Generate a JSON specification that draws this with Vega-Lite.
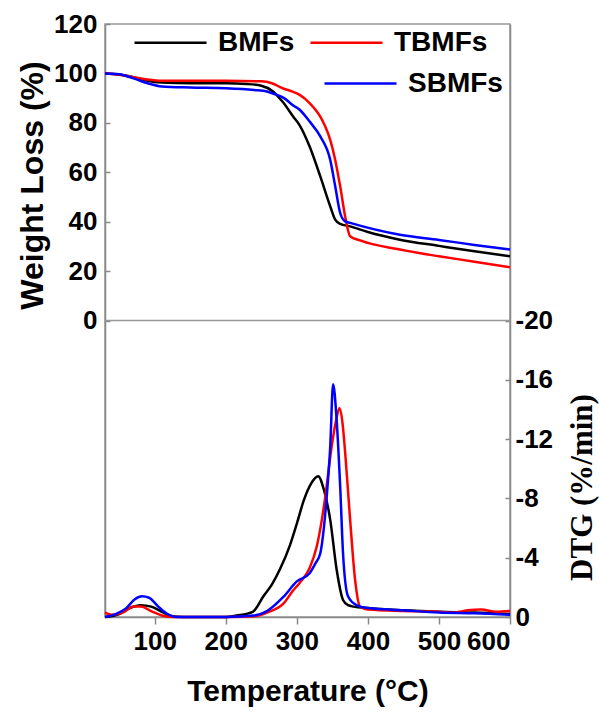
{
  "$schema": "https://vega.github.io/schema/vega-lite/v6.json",
  "autosize": "none",
  "padding": {"left": 105, "top": 24, "right": 89, "bottom": 98},
  "width": 405,
  "height": 593,
  "background": "white",
  "config": {
    "view": {"stroke": "#999999", "strokeWidth": 1.5},
    "axis": {
      "grid": false,
      "domainColor": "#888888",
      "domainWidth": 1.5,
      "tickColor": "#888888",
      "tickWidth": 1.5,
      "tickSize": 5,
      "labelFont": "Liberation Sans",
      "labelFontWeight": "bold",
      "labelFontSize": 26,
      "labelColor": "black",
      "titleFont": "Liberation Sans",
      "titleFontWeight": "bold",
      "titleFontSize": 30,
      "titleColor": "black"
    },
    "legend": {
      "orient": "none",
      "direction": "horizontal",
      "title": null,
      "padding": 0,
      "symbolType": "stroke",
      "symbolSize": 5184,
      "symbolStrokeWidth": 2.5,
      "labelFont": "Liberation Sans",
      "labelFontWeight": "bold",
      "labelFontSize": 28,
      "labelColor": "black",
      "labelOffset": 10,
      "labelLimit": 300,
      "columnPadding": 10
    }
  },
  "datasets": {
    "tga": [
      {"T": 30, "s": "BMFs", "w": 100}, {"T": 50, "s": "BMFs", "w": 99.6}, {"T": 70, "s": "BMFs", "w": 98.5}, {"T": 90, "s": "BMFs", "w": 97}, {"T": 110, "s": "BMFs", "w": 96.3}, {"T": 150, "s": "BMFs", "w": 96}, {"T": 200, "s": "BMFs", "w": 96}, {"T": 230, "s": "BMFs", "w": 95.7}, {"T": 250, "s": "BMFs", "w": 95}, {"T": 265, "s": "BMFs", "w": 93}, {"T": 280, "s": "BMFs", "w": 88.5}, {"T": 295, "s": "BMFs", "w": 82.5}, {"T": 304, "s": "BMFs", "w": 79}, {"T": 318, "s": "BMFs", "w": 70.4}, {"T": 333, "s": "BMFs", "w": 58.3}, {"T": 347, "s": "BMFs", "w": 46.2}, {"T": 354, "s": "BMFs", "w": 40.8}, {"T": 361, "s": "BMFs", "w": 39.1}, {"T": 375, "s": "BMFs", "w": 38.1}, {"T": 400, "s": "BMFs", "w": 35.8}, {"T": 445, "s": "BMFs", "w": 32.7}, {"T": 500, "s": "BMFs", "w": 30.2}, {"T": 550, "s": "BMFs", "w": 28}, {"T": 600, "s": "BMFs", "w": 26},
      {"T": 30, "s": "TBMFs", "w": 100}, {"T": 50, "s": "TBMFs", "w": 99.5}, {"T": 70, "s": "TBMFs", "w": 98.5}, {"T": 90, "s": "TBMFs", "w": 97.5}, {"T": 110, "s": "TBMFs", "w": 97}, {"T": 150, "s": "TBMFs", "w": 97}, {"T": 200, "s": "TBMFs", "w": 97}, {"T": 250, "s": "TBMFs", "w": 96.8}, {"T": 265, "s": "TBMFs", "w": 96}, {"T": 280, "s": "TBMFs", "w": 94}, {"T": 292, "s": "TBMFs", "w": 92.8}, {"T": 304, "s": "TBMFs", "w": 91.3}, {"T": 318, "s": "TBMFs", "w": 88}, {"T": 333, "s": "TBMFs", "w": 82.5}, {"T": 340, "s": "TBMFs", "w": 78.5}, {"T": 347, "s": "TBMFs", "w": 73.1}, {"T": 354, "s": "TBMFs", "w": 65}, {"T": 361, "s": "TBMFs", "w": 54.3}, {"T": 368, "s": "TBMFs", "w": 42.1}, {"T": 375, "s": "TBMFs", "w": 34.1}, {"T": 389, "s": "TBMFs", "w": 32.4}, {"T": 445, "s": "TBMFs", "w": 28.7}, {"T": 500, "s": "TBMFs", "w": 26}, {"T": 550, "s": "TBMFs", "w": 23.8}, {"T": 600, "s": "TBMFs", "w": 21.5},
      {"T": 30, "s": "SBMFs", "w": 100}, {"T": 50, "s": "SBMFs", "w": 99.7}, {"T": 70, "s": "SBMFs", "w": 98}, {"T": 90, "s": "SBMFs", "w": 96}, {"T": 110, "s": "SBMFs", "w": 94.7}, {"T": 150, "s": "SBMFs", "w": 94.3}, {"T": 200, "s": "SBMFs", "w": 94}, {"T": 240, "s": "SBMFs", "w": 93.3}, {"T": 258, "s": "SBMFs", "w": 92.7}, {"T": 270, "s": "SBMFs", "w": 91.5}, {"T": 282, "s": "SBMFs", "w": 90}, {"T": 295, "s": "SBMFs", "w": 87}, {"T": 304, "s": "SBMFs", "w": 85.3}, {"T": 318, "s": "SBMFs", "w": 80.5}, {"T": 333, "s": "SBMFs", "w": 74.5}, {"T": 347, "s": "SBMFs", "w": 65}, {"T": 354, "s": "SBMFs", "w": 54.3}, {"T": 361, "s": "SBMFs", "w": 43.5}, {"T": 368, "s": "SBMFs", "w": 40.1}, {"T": 375, "s": "SBMFs", "w": 39.5}, {"T": 445, "s": "SBMFs", "w": 34.7}, {"T": 500, "s": "SBMFs", "w": 32.6}, {"T": 550, "s": "SBMFs", "w": 30.6}, {"T": 600, "s": "SBMFs", "w": 28.7}
    ],
    "dtg": [
      {"T": 30, "s": "BMFs", "d": 0}, {"T": 50, "s": "BMFs", "d": -0.2}, {"T": 65, "s": "BMFs", "d": -0.6}, {"T": 80, "s": "BMFs", "d": -0.8}, {"T": 95, "s": "BMFs", "d": -0.7}, {"T": 110, "s": "BMFs", "d": -0.35}, {"T": 125, "s": "BMFs", "d": -0.05}, {"T": 140, "s": "BMFs", "d": 0}, {"T": 200, "s": "BMFs", "d": 0}, {"T": 215, "s": "BMFs", "d": -0.1}, {"T": 238, "s": "BMFs", "d": -0.35}, {"T": 253, "s": "BMFs", "d": -1.4}, {"T": 265, "s": "BMFs", "d": -2.2}, {"T": 276, "s": "BMFs", "d": -3.2}, {"T": 290, "s": "BMFs", "d": -4.8}, {"T": 300, "s": "BMFs", "d": -6.3}, {"T": 310, "s": "BMFs", "d": -7.9}, {"T": 320, "s": "BMFs", "d": -9.0}, {"T": 330, "s": "BMFs", "d": -9.5}, {"T": 338, "s": "BMFs", "d": -8.6}, {"T": 347, "s": "BMFs", "d": -6.55}, {"T": 356, "s": "BMFs", "d": -3.2}, {"T": 365, "s": "BMFs", "d": -1.15}, {"T": 372, "s": "BMFs", "d": -0.8}, {"T": 380, "s": "BMFs", "d": -0.7}, {"T": 400, "s": "BMFs", "d": -0.6}, {"T": 450, "s": "BMFs", "d": -0.45}, {"T": 500, "s": "BMFs", "d": -0.35}, {"T": 550, "s": "BMFs", "d": -0.3}, {"T": 600, "s": "BMFs", "d": -0.2},
      {"T": 30, "s": "TBMFs", "d": -0.3}, {"T": 40, "s": "TBMFs", "d": -0.15}, {"T": 55, "s": "TBMFs", "d": -0.3}, {"T": 70, "s": "TBMFs", "d": -0.7}, {"T": 80, "s": "TBMFs", "d": -0.7}, {"T": 95, "s": "TBMFs", "d": -0.4}, {"T": 110, "s": "TBMFs", "d": -0.1}, {"T": 125, "s": "TBMFs", "d": 0}, {"T": 200, "s": "TBMFs", "d": 0}, {"T": 240, "s": "TBMFs", "d": -0.05}, {"T": 258, "s": "TBMFs", "d": -0.3}, {"T": 281, "s": "TBMFs", "d": -0.9}, {"T": 295, "s": "TBMFs", "d": -1.8}, {"T": 304, "s": "TBMFs", "d": -2.3}, {"T": 318, "s": "TBMFs", "d": -3.3}, {"T": 328, "s": "TBMFs", "d": -4.75}, {"T": 335, "s": "TBMFs", "d": -6.5}, {"T": 340, "s": "TBMFs", "d": -8.1}, {"T": 349, "s": "TBMFs", "d": -11.5}, {"T": 355, "s": "TBMFs", "d": -13.2}, {"T": 360, "s": "TBMFs", "d": -14.1}, {"T": 364, "s": "TBMFs", "d": -13.2}, {"T": 368, "s": "TBMFs", "d": -11.1}, {"T": 375, "s": "TBMFs", "d": -6.55}, {"T": 382, "s": "TBMFs", "d": -2.5}, {"T": 389, "s": "TBMFs", "d": -0.7}, {"T": 400, "s": "TBMFs", "d": -0.5}, {"T": 450, "s": "TBMFs", "d": -0.4}, {"T": 500, "s": "TBMFs", "d": -0.35}, {"T": 520, "s": "TBMFs", "d": -0.3}, {"T": 540, "s": "TBMFs", "d": -0.45}, {"T": 560, "s": "TBMFs", "d": -0.5}, {"T": 580, "s": "TBMFs", "d": -0.35}, {"T": 600, "s": "TBMFs", "d": -0.4},
      {"T": 30, "s": "SBMFs", "d": 0}, {"T": 45, "s": "SBMFs", "d": -0.2}, {"T": 60, "s": "SBMFs", "d": -0.6}, {"T": 72, "s": "SBMFs", "d": -1.2}, {"T": 82, "s": "SBMFs", "d": -1.4}, {"T": 92, "s": "SBMFs", "d": -1.3}, {"T": 105, "s": "SBMFs", "d": -0.7}, {"T": 118, "s": "SBMFs", "d": -0.2}, {"T": 130, "s": "SBMFs", "d": 0}, {"T": 200, "s": "SBMFs", "d": 0}, {"T": 240, "s": "SBMFs", "d": -0.1}, {"T": 258, "s": "SBMFs", "d": -0.4}, {"T": 281, "s": "SBMFs", "d": -1.35}, {"T": 300, "s": "SBMFs", "d": -2.4}, {"T": 318, "s": "SBMFs", "d": -2.95}, {"T": 326, "s": "SBMFs", "d": -3.6}, {"T": 333, "s": "SBMFs", "d": -4.3}, {"T": 338, "s": "SBMFs", "d": -6}, {"T": 342, "s": "SBMFs", "d": -8.1}, {"T": 347, "s": "SBMFs", "d": -11.5}, {"T": 351, "s": "SBMFs", "d": -15.7}, {"T": 356, "s": "SBMFs", "d": -13.3}, {"T": 361, "s": "SBMFs", "d": -8.8}, {"T": 365, "s": "SBMFs", "d": -4.3}, {"T": 372, "s": "SBMFs", "d": -1.4}, {"T": 384, "s": "SBMFs", "d": -0.8}, {"T": 400, "s": "SBMFs", "d": -0.6}, {"T": 450, "s": "SBMFs", "d": -0.45}, {"T": 500, "s": "SBMFs", "d": -0.3}, {"T": 550, "s": "SBMFs", "d": -0.25}, {"T": 600, "s": "SBMFs", "d": -0.15}
    ]
  },
  "layer": [
    {
      "layer": [
        {
          "data": {"name": "tga"},
          "mark": {"type": "line", "strokeWidth": 2.5, "interpolate": "monotone"},
          "encoding": {
            "x": {"field": "T", "type": "quantitative", "scale": {"domain": [30, 600], "nice": false, "zero": false},
                  "axis": {"values": [100, 200, 300, 400, 500, 600], "title": "Temperature (°C)", "tickSize": 7, "labelPadding": 4, "titlePadding": 22}},
            "y": {"field": "w", "type": "quantitative", "scale": {"domain": [-120, 120], "nice": false},
                  "axis": {"orient": "left", "values": [0, 20, 40, 60, 80, 100, 120], "title": "Weight Loss (%)", "titleFontSize": 32, "titleY": 161, "tickSize": -5, "labelPadding": 13, "titlePadding": 4}},
            "color": {"field": "s", "type": "nominal",
                      "scale": {"domain": ["BMFs", "TBMFs", "SBMFs"], "range": ["#000000", "#ff0000", "#0000ff"]},
                      "legend": {"values": ["BMFs", "TBMFs"], "legendX": 28, "legendY": -19}}
          }
        },
        {
          "data": {"values": [{}]},
          "mark": {"type": "rule", "color": "#999999", "strokeWidth": 1.5},
          "encoding": {"y": {"datum": 0}}
        }
      ]
    },
    {
      "data": {"name": "dtg"},
      "mark": {"type": "line", "strokeWidth": 2.5, "interpolate": "monotone"},
      "encoding": {
        "x": {"field": "T", "type": "quantitative"},
        "y": {"field": "d", "type": "quantitative", "scale": {"domain": [-40, 0], "reverse": true, "nice": false},
              "axis": {"orient": "right", "values": [-20, -16, -12, -8, -4, 0], "labelExpr": "'' + datum.value", "title": "DTG (%/min)", "titleFont": "Liberation Serif", "titleFontSize": 31, "titleAngle": -90, "titleX": 72, "titleY": 463, "titleBaseline": "middle", "tickSize": -5, "labelPadding": 10}},
        "stroke": {"field": "s", "type": "nominal",
                   "scale": {"domain": ["SBMFs", "BMFs", "TBMFs"], "range": ["#0000ff", "#000000", "#ff0000"]},
                   "legend": {"values": ["SBMFs"], "legendX": 218, "legendY": 22}}
      }
    }
  ],
  "resolve": {"scale": {"y": "independent"}}
}
